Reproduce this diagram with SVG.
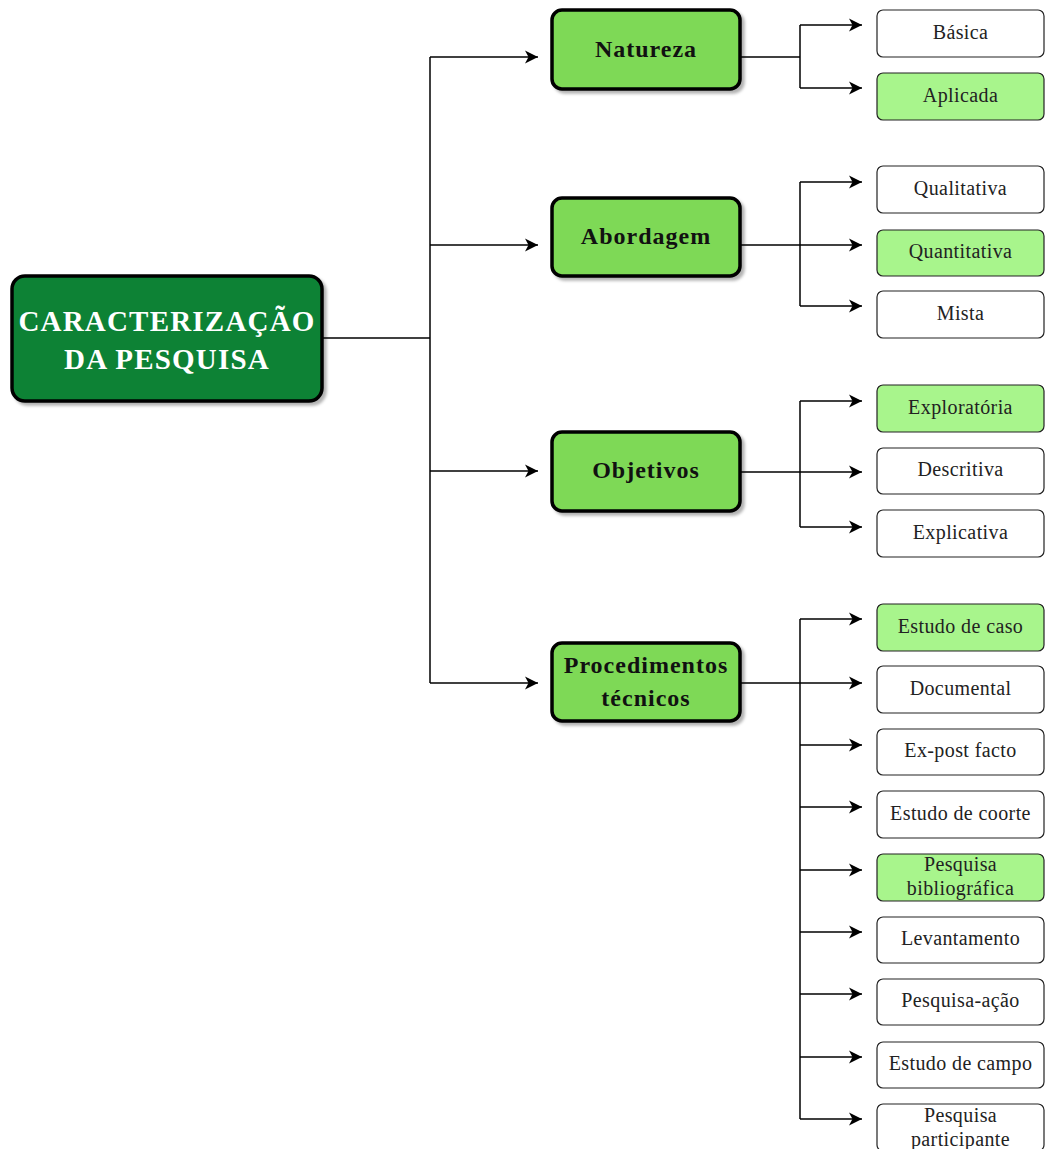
<svg xmlns="http://www.w3.org/2000/svg" width="1045" height="1149" viewBox="0 0 1045 1149">
  <defs>
    <filter id="shadow" x="-10%" y="-10%" width="130%" height="140%">
      <feDropShadow dx="3" dy="3" stdDeviation="1.5" flood-color="#000" flood-opacity="0.3"/>
    </filter>
    <marker id="arrow" markerUnits="userSpaceOnUse" markerWidth="16" markerHeight="16" refX="14" refY="8" orient="auto">
      <path d="M1,1.5 L14,8 L1,14.5 L4.5,8 Z" fill="#000"/>
    </marker>
    <style>
      .root rect { fill: #118234; stroke: #000; stroke-width: 3.5; filter: url(#shadow); }
      .root text { font-family: "Liberation Serif", serif; font-weight: bold; font-size: 29px; fill: #fff; text-anchor: middle; letter-spacing: 1.2px; }
      .cat rect { fill: #7ed957; stroke: #000; stroke-width: 3.5; filter: url(#shadow); }
      .cat text { font-family: "Liberation Serif", serif; font-weight: bold; font-size: 24px; fill: #111; text-anchor: middle; letter-spacing: 1px; }
      .leaf rect { fill: #fff; stroke: #222; stroke-width: 1.2; }
      .leaf.hl rect { fill: #a8f58c; }
      .leaf text { font-family: "Liberation Serif", serif; font-size: 20px; fill: #222; text-anchor: middle; letter-spacing: 0.4px; }
      .edges path { fill: none; stroke: #000; stroke-width: 1.5; }
      .edges .arr { marker-end: url(#arrow); }
    </style>
  </defs>

  <!-- connectors -->
  <g class="edges">
    <!-- root to categories -->
    <path d="M322,338 H430"/>
    <path d="M430,57 V683"/>
    <path class="arr" d="M430,57 H538"/>
    <path class="arr" d="M430,245 H538"/>
    <path class="arr" d="M430,471 H538"/>
    <path class="arr" d="M430,683 H538"/>

    <!-- Natureza -->
    <path d="M740,57 H800"/>
    <path d="M800,25 V88"/>
    <path class="arr" d="M800,25 H862"/>
    <path class="arr" d="M800,88 H862"/>

    <!-- Abordagem -->
    <path d="M800,182 V306"/>
    <path class="arr" d="M800,182 H862"/>
    <path class="arr" d="M740,245 H862"/>
    <path class="arr" d="M800,306 H862"/>

    <!-- Objetivos -->
    <path d="M800,401 V527"/>
    <path class="arr" d="M800,401 H862"/>
    <path class="arr" d="M740,472 H862"/>
    <path class="arr" d="M800,527 H862"/>

    <!-- Procedimentos técnicos -->
    <path d="M800,619 V1119"/>
    <path class="arr" d="M800,619 H862"/>
    <path class="arr" d="M740,683 H862"/>
    <path class="arr" d="M800,745 H862"/>
    <path class="arr" d="M800,807 H862"/>
    <path class="arr" d="M800,870 H862"/>
    <path class="arr" d="M800,932 H862"/>
    <path class="arr" d="M800,994 H862"/>
    <path class="arr" d="M800,1057 H862"/>
    <path class="arr" d="M800,1119 H862"/>
  </g>

  <!-- root -->
  <g id="caracterizacao" class="root">
    <rect x="12" y="276" width="310" height="125" rx="13"/>
    <text x="167" y="331">CARACTERIZAÇÃO</text>
    <text x="167" y="369">DA PESQUISA</text>
  </g>

  <!-- categories -->
  <g id="natureza" class="cat">
    <rect x="552" y="10" width="188" height="79" rx="10"/>
    <text x="646" y="57">Natureza</text>
  </g>
  <g id="abordagem" class="cat">
    <rect x="552" y="198" width="188" height="78" rx="10"/>
    <text x="646" y="244">Abordagem</text>
  </g>
  <g id="objetivos" class="cat">
    <rect x="552" y="432" width="188" height="79" rx="10"/>
    <text x="646" y="478">Objetivos</text>
  </g>
  <g id="procedimentos" class="cat">
    <rect x="552" y="643" width="188" height="78" rx="10"/>
    <text x="646" y="673">Procedimentos</text>
    <text x="646" y="706">técnicos</text>
  </g>

  <!-- Natureza options -->
  <g id="basica" class="leaf">
    <rect x="877" y="10" width="167" height="47" rx="6"/>
    <text x="960.5" y="39">Básica</text>
  </g>
  <g id="aplicada" class="leaf hl">
    <rect x="877" y="73" width="167" height="47" rx="6"/>
    <text x="960.5" y="102">Aplicada</text>
  </g>

  <!-- Abordagem options -->
  <g id="qualitativa" class="leaf">
    <rect x="877" y="166" width="167" height="47" rx="6"/>
    <text x="960.5" y="195">Qualitativa</text>
  </g>
  <g id="quantitativa" class="leaf hl">
    <rect x="877" y="230" width="167" height="46" rx="6"/>
    <text x="960.5" y="258">Quantitativa</text>
  </g>
  <g id="mista" class="leaf">
    <rect x="877" y="291" width="167" height="47" rx="6"/>
    <text x="960.5" y="320">Mista</text>
  </g>

  <!-- Objetivos options -->
  <g id="exploratoria" class="leaf hl">
    <rect x="877" y="385" width="167" height="47" rx="6"/>
    <text x="960.5" y="414">Exploratória</text>
  </g>
  <g id="descritiva" class="leaf">
    <rect x="877" y="448" width="167" height="46" rx="6"/>
    <text x="960.5" y="476">Descritiva</text>
  </g>
  <g id="explicativa" class="leaf">
    <rect x="877" y="510" width="167" height="47" rx="6"/>
    <text x="960.5" y="539">Explicativa</text>
  </g>

  <!-- Procedimentos técnicos options -->
  <g id="estudo-caso" class="leaf hl">
    <rect x="877" y="604" width="167" height="47" rx="6"/>
    <text x="960.5" y="633">Estudo de caso</text>
  </g>
  <g id="documental" class="leaf">
    <rect x="877" y="666" width="167" height="47" rx="6"/>
    <text x="960.5" y="695">Documental</text>
  </g>
  <g id="ex-post-facto" class="leaf">
    <rect x="877" y="729" width="167" height="46" rx="6"/>
    <text x="960.5" y="757">Ex-post facto</text>
  </g>
  <g id="estudo-coorte" class="leaf">
    <rect x="877" y="791" width="167" height="47" rx="6"/>
    <text x="960.5" y="820">Estudo de coorte</text>
  </g>
  <g id="pesquisa-bibliografica" class="leaf hl">
    <rect x="877" y="854" width="167" height="47" rx="6"/>
    <text x="960.5" y="871">Pesquisa</text>
    <text x="960.5" y="895">bibliográfica</text>
  </g>
  <g id="levantamento" class="leaf">
    <rect x="877" y="917" width="167" height="46" rx="6"/>
    <text x="960.5" y="945">Levantamento</text>
  </g>
  <g id="pesquisa-acao" class="leaf">
    <rect x="877" y="979" width="167" height="46" rx="6"/>
    <text x="960.5" y="1007">Pesquisa-ação</text>
  </g>
  <g id="estudo-campo" class="leaf">
    <rect x="877" y="1042" width="167" height="46" rx="6"/>
    <text x="960.5" y="1070">Estudo de campo</text>
  </g>
  <g id="pesquisa-participante" class="leaf">
    <rect x="877" y="1104" width="167" height="47" rx="6"/>
    <text x="960.5" y="1122">Pesquisa</text>
    <text x="960.5" y="1146">participante</text>
  </g>
</svg>
